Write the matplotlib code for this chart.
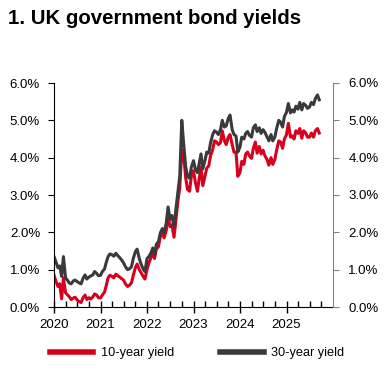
import pandas as pd
import matplotlib.pyplot as plt
import matplotlib.dates as mdates
from matplotlib.ticker import FuncFormatter, MultipleLocator
from matplotlib.lines import Line2D

plt.rcParams['font.family'] = ['Liberation Sans', 'DejaVu Sans']

dates = pd.date_range('2020-01-01', '2025-09-15', freq='SMS')

yield_10y = [
    # 2020
    0.85, 0.70, 0.55, 0.62, 0.22, 0.78, 0.38, 0.33, 0.27, 0.20, 0.24, 0.26,
    0.19, 0.15, 0.12, 0.24, 0.32, 0.20, 0.25, 0.21, 0.27, 0.35, 0.32, 0.25,
    # 2021
    0.24, 0.32, 0.40, 0.58, 0.78, 0.85, 0.82, 0.78, 0.88, 0.84, 0.80, 0.76,
    0.72, 0.62, 0.55, 0.58, 0.65, 0.85, 1.05, 1.15, 1.00, 0.92, 0.82, 0.75,
    # 2022
    1.00, 1.18, 1.32, 1.48, 1.30, 1.55, 1.62, 1.88, 1.98, 1.85, 2.05, 2.45,
    2.15, 2.20, 1.87, 2.30, 2.85, 3.20, 4.20, 4.10, 3.45, 3.15, 3.10, 3.50,
    # 2023
    3.65, 3.35, 3.10, 3.45, 3.75, 3.25, 3.50, 3.72, 3.78, 4.05, 4.22, 4.45,
    4.42, 4.35, 4.40, 4.72, 4.45, 4.35, 4.55, 4.62, 4.35, 4.15, 4.15, 3.50,
    # 2024
    3.60, 3.90, 3.82, 4.10, 4.15, 4.05, 3.98, 4.25, 4.42, 4.12, 4.30, 4.10,
    4.20, 4.05, 3.95, 3.80, 4.00, 3.82, 3.95, 4.20, 4.45, 4.42, 4.25, 4.50,
    # 2025
    4.62, 4.92, 4.55, 4.58, 4.50, 4.72, 4.65, 4.78, 4.52, 4.72, 4.66, 4.55,
    4.55, 4.66, 4.55, 4.72, 4.78, 4.66,
]

yield_30y = [
    # 2020
    1.35, 1.22, 1.05, 1.10, 0.82, 1.35, 0.78, 0.72, 0.64, 0.62, 0.70, 0.72,
    0.68, 0.65, 0.62, 0.76, 0.86, 0.75, 0.80, 0.83, 0.86, 0.95, 0.90, 0.84,
    # 2021
    0.85, 0.95, 1.02, 1.20, 1.35, 1.42, 1.40, 1.36, 1.44, 1.38, 1.32, 1.26,
    1.18, 1.08, 1.00, 1.02, 1.08, 1.30, 1.48, 1.55, 1.30, 1.15, 1.02, 0.95,
    # 2022
    1.30, 1.35, 1.45, 1.58, 1.40, 1.68, 1.75, 1.98, 2.10, 2.00, 2.25, 2.68,
    2.35, 2.45, 2.15, 2.60, 3.10, 3.50, 5.00, 4.40, 3.75, 3.50, 3.45, 3.75,
    # 2023
    3.92, 3.70, 3.60, 3.85, 4.10, 3.70, 3.92, 4.15, 4.12, 4.40, 4.62, 4.72,
    4.68, 4.62, 4.75, 5.00, 4.82, 4.85, 5.05, 5.14, 4.75, 4.62, 4.58, 4.15,
    # 2024
    4.28, 4.55, 4.50, 4.65, 4.70, 4.60, 4.55, 4.80, 4.88, 4.70, 4.80, 4.65,
    4.75, 4.68, 4.55, 4.45, 4.62, 4.45, 4.55, 4.78, 5.00, 4.95, 4.82, 5.10,
    # 2025
    5.22, 5.45, 5.20, 5.28, 5.22, 5.38, 5.30, 5.48, 5.28, 5.45, 5.40, 5.32,
    5.36, 5.48, 5.42, 5.58, 5.68, 5.55,
]

year_labels = ['2020', '2021', '2022', '2023', '2024', '2025']

RED = '#d7001e'
GREY = '#3a3a3a'

fig = plt.figure(figsize=(3.89, 3.71), dpi=100)
ax = fig.add_axes([54 / 389, 1 - 307 / 371, 279 / 389, 224 / 371])

ax.plot(dates, yield_10y, color=RED, lw=2.2)
ax.plot(dates, yield_30y, color=GREY, lw=2.2)

ax.set_xlim(pd.Timestamp('2020-01-01'), pd.Timestamp('2026-01-01'))
ax.set_ylim(0, 6)
ax.set_xticks([pd.Timestamp(y + '-01-01') for y in year_labels])
ax.set_xticklabels(year_labels)
ax.xaxis.set_minor_locator(mdates.MonthLocator(bymonth=[4, 7, 10]))
ax.tick_params(axis='x', which='major', direction='inout', length=9, width=1,
               labelsize=9.5, pad=4)
ax.tick_params(axis='x', which='minor', direction='in', length=4, width=1)

pct = FuncFormatter(lambda v, p: f'{v:.1f}%')
ax.yaxis.set_major_locator(MultipleLocator(1))
ax.yaxis.set_major_formatter(pct)
ax.tick_params(axis='y', direction='out', length=4, labelsize=9.5, pad=6)

for s in ['top', 'right']:
    ax.spines[s].set_visible(False)

ax2 = ax.twinx()
ax2.set_ylim(0, 6)
ax2.yaxis.set_major_locator(MultipleLocator(1))
ax2.yaxis.set_major_formatter(pct)
ax2.tick_params(axis='y', direction='out', length=4, labelsize=9.5, pad=7,
                color='#808080')
for s in ['top', 'left', 'bottom']:
    ax2.spines[s].set_visible(False)
ax2.spines['right'].set_color('#808080')

fig.text(8 / 389, 1 - 18 / 371, '1. UK government bond yields',
         fontsize=14.7, fontweight='bold', va='center', ha='left')

handles = [Line2D([], [], color=RED, lw=4), Line2D([], [], color=GREY, lw=4)]
fig.legend(handles, ['10-year yield', '30-year yield'], loc='center',
           bbox_to_anchor=(197 / 389, 1 - 353 / 371), ncol=2, frameon=False,
           fontsize=9.2, handlelength=3.4, handletextpad=0.6,
           columnspacing=3.6)

fig.savefig('out.png', dpi=100)
